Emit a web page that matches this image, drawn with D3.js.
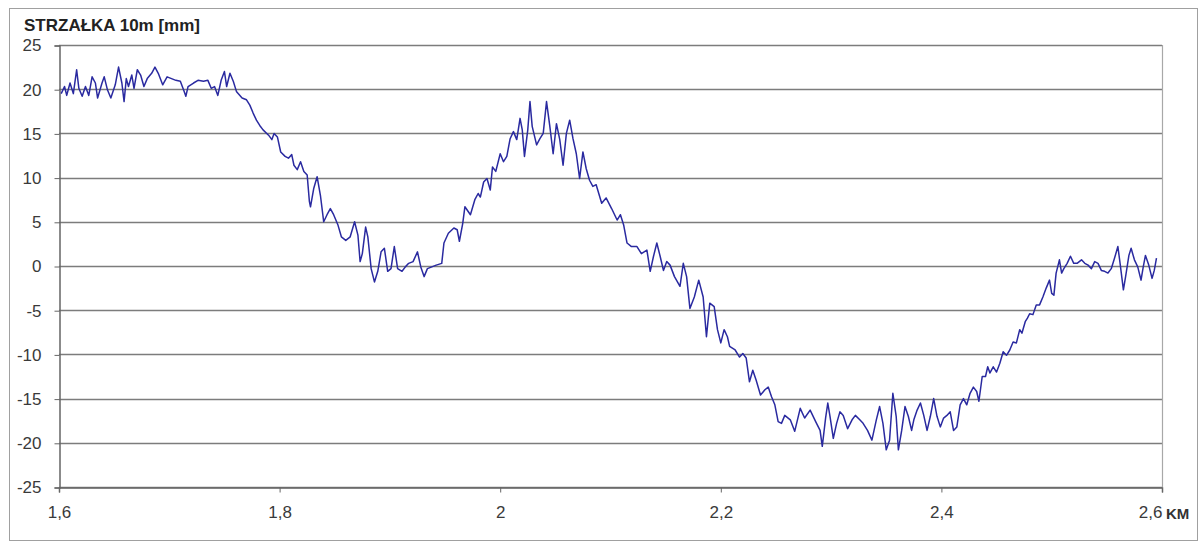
<!DOCTYPE html>
<html>
<head>
<meta charset="utf-8">
<script src="https://cdn.jsdelivr.net/npm/d3@7"></script>
<style>
  html, body { margin: 0; padding: 0; background: #fff; }
  svg { display: block; font-family: Arial, "Liberation Sans", sans-serif; }
</style>
</head>
<body>
<div id="chart"></div>
<script>
// distance along the track [km]
var km = [
  1.602,1.605,1.607,1.610,1.613,1.616,1.618,1.621,1.624,1.627,1.630,1.633,1.635,1.639,1.641,1.644,1.647,1.651,1.654,1.657,
  1.659,1.661,1.663,1.666,1.668,1.671,1.674,1.677,1.680,1.684,1.687,1.690,1.694,1.698,1.702,1.706,1.710,1.713,1.715,1.717,
  1.722,1.726,1.731,1.735,1.738,1.741,1.744,1.747,1.750,1.752,1.755,1.758,1.761,1.766,1.770,1.773,1.776,1.779,1.782,1.785,
  1.790,1.793,1.795,1.798,1.801,1.805,1.808,1.811,1.813,1.816,1.819,1.822,1.825,1.827,1.828,1.831,1.834,1.837,1.840,1.843,
  1.846,1.849,1.853,1.856,1.860,1.864,1.868,1.871,1.873,1.875,1.878,1.880,1.883,1.886,1.889,1.892,1.895,1.898,1.901,1.904,
  1.907,1.911,1.914,1.917,1.921,1.925,1.928,1.931,1.934,1.938,1.942,1.947,
  1.949,1.953,1.958,1.961,1.963,1.966,1.968,1.973,1.977,1.980,1.982,1.985,1.988,1.991,1.993,1.996,2.000,2.003,2.006,2.009,
  2.012,2.015,2.018,2.020,2.022,2.025,2.027,2.029,2.033,2.036,2.039,2.042,2.045,2.048,2.051,2.054,2.057,2.060,2.063,2.066,
  2.069,2.072,2.075,2.078,2.081,2.084,2.087,2.092,2.096,2.101,2.106,2.109,2.112,2.115,2.119,2.124,2.128,2.133,2.136,2.139,
  2.142,2.145,2.148,2.151,2.154,2.158,2.163,2.166,2.169,2.172,2.176,2.180,2.184,2.187,2.190,2.194,2.197,2.200,2.203,2.206,
  2.208,2.213,2.217,2.220,2.223,2.226,2.229,2.232,2.236,2.240,2.243,2.246,2.249,2.252,2.255,2.258,2.263,2.267,2.272,2.276,
  2.281,2.286,2.290,2.292,2.295,2.297,2.299,2.302,2.305,2.308,2.311,2.315,2.319,2.322,2.326,2.329,2.333,2.337,2.341,2.344,
  2.347,2.350,2.353,2.356,2.359,2.361,2.364,2.367,2.370,2.373,2.375,2.378,2.381,2.384,2.387,2.390,2.393,2.396,2.399,2.402,
  2.405,2.408,2.411,2.414,2.417,2.420,2.423,2.426,2.429,2.432,2.434,2.437,2.440,2.442,2.444,2.447,2.450,2.453,2.456,2.459,
  2.462,2.465,2.468,2.471,2.473,2.476,2.478,2.480,2.483,2.486,2.489,2.492,2.495,2.498,2.500,2.502,2.504,2.507,2.509,2.511,
  2.514,2.517,2.520,2.523,2.527,2.530,2.533,2.536,2.539,2.542,2.545,2.548,2.551,2.554,2.557,2.560,2.562,2.565,2.567,2.570,
  2.572,2.575,2.578,2.581,2.583,2.585,2.588,2.591,2.593,2.595
];

// versine over a 10 m chord [mm]
var strzalka = [
  19.5,20.3,19.3,20.7,19.5,22.2,20.1,19.2,20.3,19.3,21.4,20.7,19.0,20.7,21.4,19.9,19.0,20.5,22.5,20.7,
  18.6,21.2,20.3,21.6,20.1,22.2,21.6,20.3,21.2,21.8,22.5,21.8,20.5,21.4,21.2,21.0,20.9,19.9,19.2,20.3,
  20.7,21.0,20.9,21.0,20.1,20.3,19.3,21.0,22.0,20.3,21.8,20.9,19.7,19.0,18.8,18.2,17.3,16.5,15.9,15.4,
  14.8,14.3,15.0,14.6,12.9,12.4,12.2,12.6,11.4,10.9,11.8,10.7,10.3,7.3,6.7,8.8,10.1,8.0,5.0,5.8,
  6.5,5.8,4.6,3.3,2.9,3.3,5.0,3.5,0.5,1.4,4.4,3.3,-0.3,-1.8,-0.6,1.6,2.0,-0.6,-0.3,2.2,
  -0.3,-0.6,-0.1,0.3,0.5,1.6,-0.1,-1.2,-0.3,-0.1,0.1,0.3,
  2.6,3.7,4.3,4.1,2.8,4.8,6.7,5.8,7.5,8.2,7.8,9.5,9.9,8.6,11.2,10.7,12.7,11.8,12.4,14.4,
  15.2,14.3,16.7,15.4,12.4,15.4,18.6,15.8,13.7,14.4,15.0,18.6,15.8,12.7,16.1,14.3,11.4,15.0,16.5,14.4,
  12.7,9.9,12.9,11.0,9.7,9.0,9.2,7.1,7.7,6.5,5.2,5.8,4.6,2.6,2.2,2.2,1.4,1.8,-0.6,1.1,
  2.6,1.1,-0.5,0.5,0.1,-1.2,-2.3,0.3,-1.2,-4.8,-3.5,-1.6,-3.5,-8.0,-4.2,-4.6,-7.2,-8.7,-7.2,-8.0,
  -9.1,-9.5,-10.3,-9.9,-10.4,-13.1,-11.8,-12.9,-14.6,-14.0,-13.7,-14.8,-15.7,-17.6,-17.8,-16.9,-17.4,-18.7,-16.1,-17.2,
  -16.3,-17.6,-18.6,-20.4,-17.2,-15.5,-17.0,-19.5,-17.8,-16.5,-16.9,-18.4,-17.4,-16.9,-17.4,-17.8,-18.6,-19.7,-17.4,-15.9,
  -17.8,-20.8,-19.7,-14.4,-17.0,-20.8,-18.6,-15.9,-17.0,-18.6,-17.4,-16.3,-15.5,-16.9,-18.6,-17.0,-15.0,-17.0,-18.2,-17.2,
  -16.9,-16.5,-18.6,-18.2,-15.7,-15.0,-15.7,-14.4,-13.7,-14.2,-15.3,-12.5,-12.5,-11.4,-12.1,-11.4,-12.0,-11.0,-9.7,-10.1,
  -9.5,-8.6,-8.7,-7.2,-7.6,-6.3,-5.9,-5.4,-5.5,-4.4,-4.4,-3.5,-2.5,-1.6,-3.1,-3.3,-0.8,0.7,-0.8,-0.3,
  0.3,1.1,0.3,0.3,0.7,0.3,0.1,-0.3,0.5,0.3,-0.5,-0.6,-0.8,-0.3,0.9,2.2,0.3,-2.7,-1.2,1.2,
  2.0,0.7,-0.1,-1.6,-0.1,1.2,0.1,-1.4,-0.5,0.9
];

var xTicks = [1.6, 1.8, 2.0, 2.2, 2.4, 2.6];
var yTicks = [-25, -20, -15, -10, -5, 0, 5, 10, 15, 20, 25];

var width = 1201, height = 544;
var margin = {top: 45, right: 39, bottom: 57, left: 59};

var svg = d3.select("#chart").append("svg")
    .attr("width", width)
    .attr("height", height);

// outer frame
svg.append("rect")
    .attr("x", 9.5).attr("y", 8.5)
    .attr("width", 1188).attr("height", 532)
    .attr("fill", "#fff")
    .attr("stroke", "#a0a0a0");

var x = d3.scaleLinear().domain([1.6, 2.6]).range([margin.left, width - margin.right]);
var y = d3.scaleLinear().domain([-25, 25]).range([height - margin.bottom, margin.top]);

var g = svg.append("g");

// horizontal gridlines
g.append("g").selectAll("line")
    .data(yTicks)
    .enter().append("line")
    .attr("x1", x(1.6)).attr("x2", x(2.6))
    .attr("y1", function(d) { return Math.round(y(d)) + 0.5; })
    .attr("y2", function(d) { return Math.round(y(d)) + 0.5; })
    .attr("stroke", "#7c7c7c")
    .attr("stroke-width", 1.7);

// right edge of plot area
g.append("line")
    .attr("x1", x(2.6) + 0.5).attr("x2", x(2.6) + 0.5)
    .attr("y1", y(25)).attr("y2", y(-25))
    .attr("stroke", "#a8a8a8")
    .attr("stroke-width", 1.2);

// y axis
var yAxis = d3.axisLeft(y)
    .tickValues(yTicks)
    .tickSize(5)
    .tickPadding(13)
    .tickFormat(function(d) { return String(d); });

var ya = svg.append("g")
    .attr("transform", "translate(" + (margin.left + 0.5) + ",0.5)")
    .call(yAxis);
ya.select(".domain").attr("stroke", "#666").attr("stroke-width", 1.5);
ya.selectAll(".tick line").attr("stroke", "#666");
ya.selectAll("text")
    .attr("fill", "#3a3a3a")
    .style("font-size", "17px");

// x axis
var xAxis = d3.axisBottom(x)
    .tickValues(xTicks)
    .tickSize(5)
    .tickPadding(13)
    .tickFormat(function(d) { return d3.format("~g")(d).replace(".", ","); });

var xa = svg.append("g")
    .attr("transform", "translate(0," + (Math.round(y(-25)) + 0.5) + ")")
    .call(xAxis);
xa.select(".domain").attr("stroke", "#666").attr("stroke-width", 1.5);
xa.selectAll(".tick line").attr("stroke", "#666");
xa.selectAll("text")
    .attr("fill", "#3a3a3a")
    .style("font-size", "17px");
// last label sits left of its tick to leave room for the unit
xa.selectAll(".tick").filter(function(d) { return d === 2.6; })
    .select("text")
    .attr("text-anchor", "end")
    .attr("dx", "0");

xa.append("text")
    .attr("x", x(2.6) + 4)
    .attr("y", 31)
    .attr("fill", "#333")
    .attr("text-anchor", "start")
    .style("font-size", "15px")
    .style("font-weight", "bold")
    .text("KM");

// title
svg.append("text")
    .attr("x", 24)
    .attr("y", 31)
    .attr("fill", "#222")
    .style("font-size", "17px")
    .style("font-weight", "bold")
    .text("STRZAŁKA 10m [mm]");

// the series
var line = d3.line()
    .x(function(d, i) { return x(km[i]); })
    .y(function(d) { return y(d); });

svg.append("path")
    .datum(strzalka)
    .attr("d", line)
    .attr("fill", "none")
    .attr("stroke", "#2a2aa0")
    .attr("stroke-width", 1.5)
    .attr("stroke-linejoin", "round");
</script>
</body>
</html>
